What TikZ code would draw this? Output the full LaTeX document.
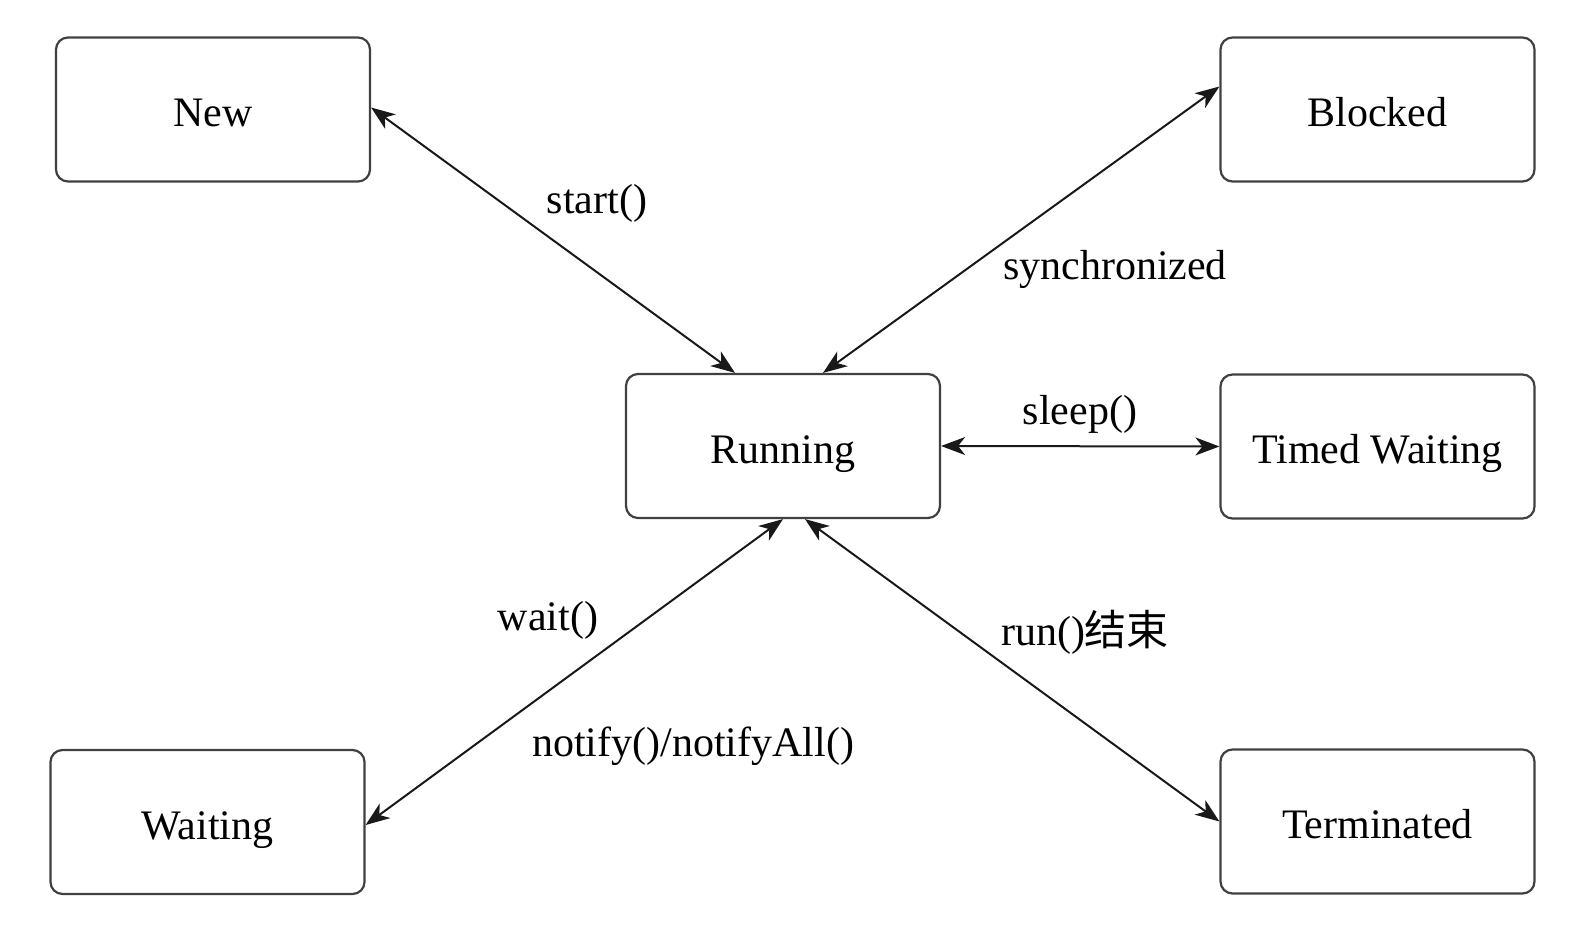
\documentclass[tikz,border=0pt]{standalone}
\usepackage{fontspec}
\setmainfont{Liberation Serif}
\newfontfamily\cjk{Noto Sans CJK SC}
\usetikzlibrary{arrows.meta}
\begin{document}
\begin{tikzpicture}[x=0.5pt,y=-0.5pt,
  state/.style={draw=black!75,line width=1.1pt,rounded corners=6pt,
    minimum width=157pt,minimum height=72pt,inner sep=0pt,
    text height=19pt,text depth=2pt,
    font=\fontsize{21}{25}\selectfont,fill=white},
  lbl/.style={font=\fontsize{21}{25}\selectfont,inner sep=0pt},
  conn/.style={line width=1pt,black!90,{Stealth[length=12pt,width=9pt,inset=3.5pt]}-{Stealth[length=12pt,width=9pt,inset=3.5pt]}}]
\useasboundingbox (0,0) rectangle (1578,946);
\node[state] (new) at (213,109.5) {New};
\node[state] (run) at (783,446) {Running};
\node[state] (blk) at (1377.5,109.5) {Blocked};
\node[state] (tw) at (1377.5,446.5) {Timed Waiting};
\node[state] (wt) at (207.5,822) {Waiting};
\node[state] (term) at (1377.5,821.5) {Terminated};
\draw[conn] ([yshift=1pt]new.east) -- ([xshift=-24pt]run.north);
\draw[conn] ([yshift=11.5pt]blk.west) -- ([xshift=20pt]run.north);
\draw[conn] (run.east) -- (tw.west);
\draw[conn] ([yshift=-1.5pt]wt.east) -- (run.south);
\draw[conn] ([xshift=11pt]run.south) -- (term.west);
\node[lbl] (l1) at (597,203) {start()};
\node[lbl] (l2) at (1115,269) {synchronized};
\node[lbl] (l3) at (1080,414) {sleep()};
\node[lbl] (l4) at (548,620) {wait()};
\node[lbl] (l5) at (693,746) {notify()/notifyAll()};
\node[lbl] (l6) at (1085,632) {run(){\cjk 结束}};
\end{tikzpicture}
\end{document}
